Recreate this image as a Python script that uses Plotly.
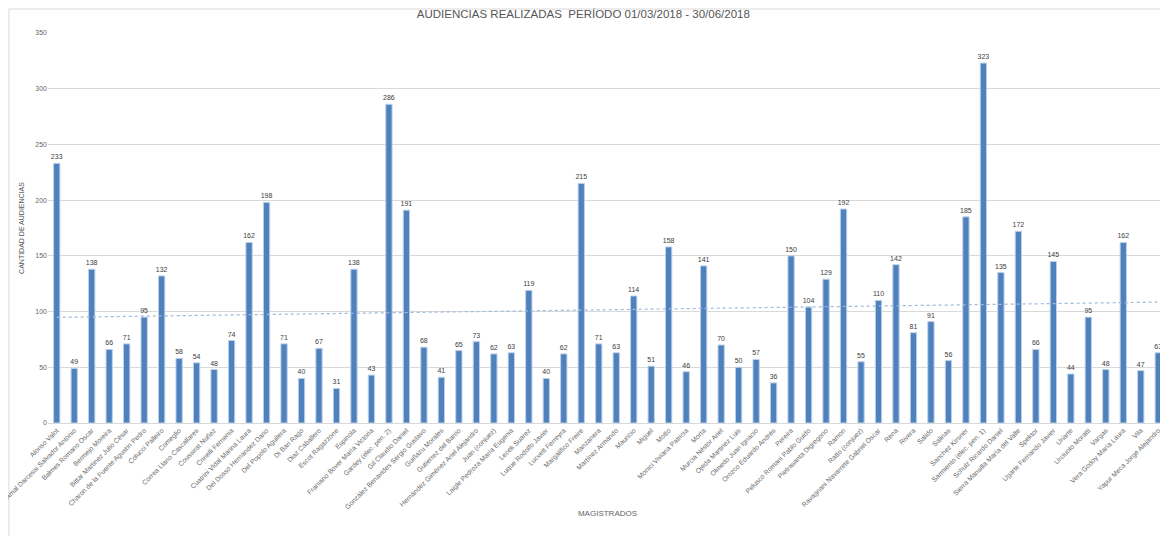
import numpy as np
import plotly.graph_objects as go

magistrados = [
    "Alonso Valot", "Amal Darcessi Salvador Antonio", "Balmes Romano Oscar", "Bermejo Moreira",
    "Bittar Martinez Julio César", "Charon de la Fuente Agustín Pedro", "Colucci Palleiro", "Comeglio",
    "Correa Llano Cascallares", "Coussirat Nuñez", "Crinelli Fernenia", "Cuatrini Vidal Marina Laura",
    "Del Dosso Hernandez Dario", "Del Popolo Aguilera", "Di Bari Rago", "Diaz Caballero",
    "Escot Ragazzone", "Espinola", "Franiano Bover María Victoria", "Gardey (elec. pen. 2)",
    "Gil Claudio Daniel", "González Benavides Sergio Gustavo", "Guiñazu Morales", "Gutierrez del Barrio",
    "Hernández Giménez Ariel Alejandro", "Juan (conjuez)", "Laigle Pedroza María Eugenia", "Lecek Suarez",
    "Luque Rodolfo Javier", "Lucvett Ferreyra", "Margalifico Freire", "Manzanera",
    "Martínez Armando", "Mauricio", "Miguel", "Motto",
    "Monici Viviana Patricia", "Morta", "Murcia Néstor Ariel", "Ojeda Martinez Luis",
    "Olmedo Juan Ignacio", "Orozco Eduardo Andrés", "Pereira", "Pelusco Romani Pablo Guido",
    "Pietrasanta Digregorio", "Ramon", "Ratto (conjuez)", "Ravagnani Navarrete Gabriel Oscar",
    "Rena", "Rivera", "Salido", "Salinas",
    "Sanchez Kirsner", "Sarmiento (elec. pen. 1)", "Schulz Ricardo Daniel", "Sierra Mansilla María del Valle",
    "Spektor", "Ugarte Fernando Javier", "Uriarte", "Urciuolo Moratti",
    "Vargas", "Vera Godoy María Laura", "Vila", "Yapur Meca Jorge Alejandro",
]
audiencias = [
    233, 49, 138, 66, 71, 95, 132, 58,
    54, 48, 74, 162, 198, 71, 40, 67,
    31, 138, 43, 286, 191, 68, 41, 65,
    73, 62, 63, 119, 40, 62, 215, 71,
    63, 114, 51, 158, 46, 141, 70, 50,
    57, 36, 150, 104, 129, 192, 55, 110,
    142, 81, 91, 56, 185, 323, 135, 172,
    66, 145, 44, 95, 48, 162, 47, 63,
]
y_ticks = [0, 50, 100, 150, 200, 250, 300, 350]

idx = np.arange(1, len(audiencias) + 1)
slope, intercept = np.polyfit(idx, np.array(audiencias, dtype=float), 1)
trend = intercept + slope * idx

fig = go.Figure()
fig.add_trace(go.Bar(
    x=magistrados, y=audiencias,
    marker=dict(color="#4F81BD", line=dict(color="#BCD0EA", width=1)),
    text=[str(v) for v in audiencias], textposition="outside",
    textfont=dict(size=7, color="#404040", family="Liberation Sans"),
    constraintext="none",
    cliponaxis=False, width=0.36, hoverinfo="x+y",
))
fig.add_trace(go.Scatter(
    x=magistrados, y=trend, mode="lines",
    line=dict(color="#9DB9DD", width=1.2, dash="dot"), hoverinfo="skip",
))

fig.update_layout(
    width=1160, height=528,
    margin=dict(l=40, r=1, t=25, b=113),
    paper_bgcolor="white", plot_bgcolor="white",
    showlegend=False,
    title=dict(text="AUDIENCIAS REALIZADAS  PERÍODO 01/03/2018 - 30/06/2018",
               x=0.496, xanchor="center", y=0.989, yanchor="middle",
               font=dict(size=11.5, color="#555555", family="Liberation Sans")),
    font=dict(family="Liberation Sans", color="#666666"),
)
fig.update_xaxes(
    tickangle=-45, tickfont=dict(size=6.8, color="#6b6b6b"),
    showgrid=False, showline=True, linecolor="#D9D9D9", linewidth=1,
    ticks="", range=[-0.5, len(magistrados) - 0.5],
    title=dict(text="MAGISTRADOS", font=dict(size=8, color="#666666"), standoff=0),
    automargin=False,
)
fig.update_yaxes(
    range=[0, 350], tickvals=y_ticks, tickfont=dict(size=7, color="#666666"),
    showgrid=True, gridcolor="#D9D9D9", gridwidth=1, zeroline=False,
    showline=False, ticks="",
    title=dict(text="CANTIDAD DE AUDIENCIAS", font=dict(size=7, color="#555555"), standoff=9),
    automargin=False,
)
fig.add_shape(type="rect", xref="paper", yref="paper",
              x0=-0.0349, x1=1.5, y0=-0.5, y1=1.0615,
              line=dict(color="#D9D9D9", width=1), layer="below")
fig.write_html("out.html")
